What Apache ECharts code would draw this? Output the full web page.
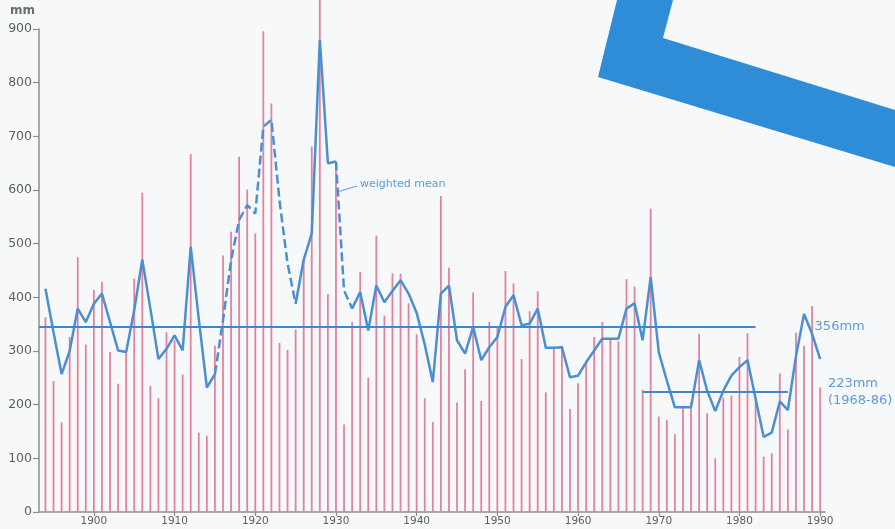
<!DOCTYPE html>
<html>
<head>
<meta charset="utf-8">
<script src="https://cdn.jsdelivr.net/npm/echarts@6/dist/echarts.min.js"></script>
<style>
html, body { margin: 0; padding: 0; background: #f7f8f9; }
#chart { width: 895px; height: 529px; }
</style>
</head>
<body>
<div id="chart"></div>
<script>
// annual rainfall, mm, 1894 - 1990
const firstYear = 1894
const rainfall = [
	363, 244, 167, 326, 475, 312, 414, 429, 298, 239,
	300, 435, 595, 235, 212, 335, 320, 256, 667, 148,
	142, 310, 478, 522, 662, 601, 519, 896, 761, 315,
	302, 340, 472, 681, 955, 406, 653, 163, 354, 447,
	250, 515, 366, 445, 444, 389, 331, 212, 168, 589,
	455, 204, 266, 409, 207, 354, 346, 449, 426, 285,
	374, 411, 223, 304, 310, 192, 240, 280, 326, 354,
	322, 318, 434, 420, 228, 565, 178, 172, 145, 198,
	205, 332, 184, 100, 213, 217, 289, 333, 215, 103,
	109, 258, 154, 334, 310, 384, 232
]
// weighted mean, same years
const weightedMean = [
	416, 335, 257, 300, 379, 354, 388, 407, 354, 301,
	298, 376, 470, 379, 285, 304, 329, 301, 494, 360,
	232, 257, 357, 469, 544, 572, 556, 718, 731, 581,
	463, 388, 470, 519, 880, 650, 653, 413, 379, 410,
	338, 422, 391, 412, 432, 407, 371, 312, 242, 407,
	422, 320, 295, 345, 283, 307, 326, 382, 404, 348,
	351, 379, 306, 306, 307, 251, 254, 279, 301, 323,
	323, 323, 379, 389, 320, 438, 298, 245, 195, 195,
	195, 283, 226, 188, 226, 254, 270, 283, 211, 140,
	148, 206, 190, 290, 369, 332, 285
]
// parts of the mean drawn dashed
const dashedSpans = [[1915, 1925], [1930, 1932]]
const yearLabels = [1900, 1910, 1920, 1930, 1940, 1950, 1960, 1970, 1980, 1990]
// long-term means
const meanLevels = [
	{ value: 346, from: 1893.2, to: 1982, text: '356mm', gap: 59 },
	{ value: 224, from: 1968, to: 1986, text: '223mm\n(1968-86)', gap: 40 }
]

const years = rainfall.map((v, i) => firstYear + i)

const inDashed = (y, strict) => dashedSpans.some(([a, b]) => strict ? (y > a && y < b) : (y >= a && y <= b))

const barData = years.map((y, i) => [y, rainfall[i]])
const solidData = years.map((y, i) => [y, inDashed(y, true) ? '-' : weightedMean[i]])
const dashData = years.map((y, i) => [y, inDashed(y, false) ? weightedMean[i] : '-'])

const gray = '#8b908f'
const labelGray = '#5b6160'
const lineBlue = '#4b8fd2'
const textBlue = '#5d9bd9'

const chart = echarts.init(document.getElementById('chart'))

chart.setOption({
	animation: false,
	backgroundColor: '#f7f8f9',
	grid: { left: 39, right: 70, top: 29, bottom: 17, containLabel: false },
	xAxis: {
		type: 'value',
		min: 1893.2,
		max: 1990.6,
		splitLine: { show: false },
		axisLine: { show: true, lineStyle: { color: gray, width: 1.5 } },
		axisTick: { show: true, customValues: yearLabels, length: 4, lineStyle: { color: gray, width: 1.2 } },
		axisLabel: {
			customValues: yearLabels,
			formatter: (v) => String(v),
			margin: 4,
			color: labelGray,
			fontFamily: 'DejaVu Sans',
			fontSize: 10.5
		}
	},
	yAxis: {
		type: 'value',
		min: 0,
		max: 900,
		interval: 100,
		splitLine: { show: false },
		axisLine: { show: true, lineStyle: { color: gray, width: 1.5 } },
		axisTick: { show: true, length: 6, lineStyle: { color: gray, width: 1.2 } },
		axisLabel: {
			margin: 7,
			color: labelGray,
			fontFamily: 'DejaVu Sans',
			fontSize: 12.5
		}
	},
	graphic: [
		{
			type: 'polygon',
			z: 0,
			shape: { points: [[617, 0], [673, 0], [663, 38], [895, 110], [895, 167], [598, 77]] },
			style: { fill: '#2f8dd7' }
		},
		{
			type: 'text',
			left: 10,
			top: 5,
			style: { text: 'mm', fill: '#6a706f', font: 'bold 12px "DejaVu Sans"' }
		},
		{
			type: 'line',
			shape: { x1: 337, y1: 192, x2: 357, y2: 186 },
			style: { stroke: textBlue, lineWidth: 1 }
		},
		{
			type: 'text',
			left: 360,
			top: 179,
			style: { text: 'weighted mean', fill: textBlue, font: '11px "DejaVu Sans"' }
		}
	],
	series: [
		{
			name: 'rainfall',
			type: 'bar',
			data: barData,
			barWidth: 1.8,
			clip: false,
			itemStyle: { color: '#e3829f' }
		},
		{
			name: 'weighted mean',
			type: 'line',
			data: solidData,
			symbol: 'none',
			lineStyle: { color: lineBlue, width: 2.5 },
			markLine: {
				silent: true,
				symbol: 'none',
				lineStyle: { color: '#3f86cb', width: 2.2, type: 'solid' },
				data: meanLevels.map((m) => [
					{
						coord: [m.from, m.value],
						label: {
							show: true,
							position: 'end',
							distance: m.gap,
							formatter: m.text,
							color: textBlue,
							fontFamily: 'DejaVu Sans',
							fontSize: 13,
							lineHeight: 17
						}
					},
					{ coord: [m.to, m.value] }
				])
			}
		},
		{
			name: 'weighted mean (dashed)',
			type: 'line',
			data: dashData,
			symbol: 'none',
			lineStyle: { color: lineBlue, width: 2.5, type: [9, 4] }
		}
	]
})
</script>
</body>
</html>
